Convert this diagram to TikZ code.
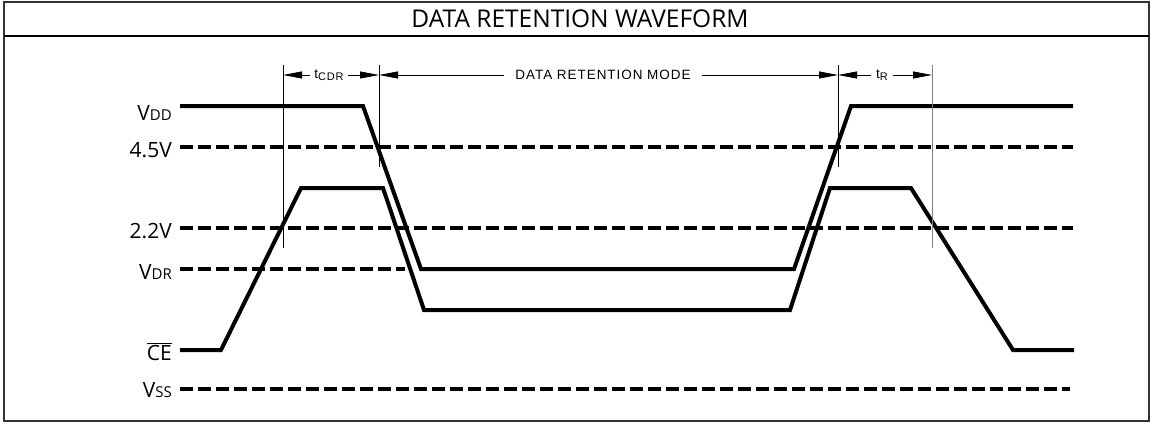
\documentclass[tikz,border=0pt]{standalone}
\usepackage{fontspec}
\setmainfont{Open Sans}
\newfontfamily\titlefont{Open Sans}
\newfontfamily\dimfont[LetterSpace=7]{Liberation Sans}
\usetikzlibrary{arrows.meta}
\newcommand{\lowtxt}[1]{{\fontsize{15}{15}\selectfont #1}}
\newcommand{\dimsub}[1]{\raisebox{-2.5pt}{\fontsize{11}{11}\selectfont #1}}
\begin{document}
\begin{tikzpicture}[x=1pt,y=-1pt]
    \tikzset{%
        lbl/.style={anchor=base east, inner sep=0pt, font=\fontsize{21}{21}\selectfont},
        wave/.style={line width=4pt, line join=miter},
        lev/.style={line width=4pt, dash pattern=on 13pt off 5pt},
        tick/.style={line width=0.9pt},
        dim/.style={line width=0.8pt, -{Triangle[length=19pt,width=7pt]}},
        dtxt/.style={font=\dimfont\fontsize{13.5}{13.5}\selectfont, inner sep=4pt}%
        }
    \useasboundingbox (0,0) rectangle (1151,423);
    \draw[line width=2pt, black!80] (4,2) rectangle (1149,421);
    \draw[line width=2.5pt] (4,36) -- (1149,36);
    \node[font=\titlefont\fontsize{24.5}{24.5}\selectfont](title)at(580,19){DATA RETENTION WAVEFORM};
    % level labels
    \node[lbl](vdd)at(172,120){V\lowtxt{DD}};
    \node[lbl](v45)at(172,157){4.5V};
    \node[lbl](v22)at(172,238){2.2V};
    \node[lbl](vdr)at(172,279){V\lowtxt{DR}};
    \node[lbl](ce)at(172,360){$\overline{\mbox{CE}}$};
    \node[lbl](vss)at(172,397){V\lowtxt{SS}};
    % reference levels
    \draw[lev] (180,147) -- (1073,147);
    \draw[lev] (180,228) -- (1073,228);
    \draw[lev] (180,269) -- (405,269);
    \draw[lev] (180,389) -- (1070,389);
    % waveforms
    \draw[wave] (180,106) -- (363,106) -- (421,269) -- (794,269) -- (851,106) -- (1073,106);
    \draw[wave] (180,350) -- (221,350) -- (301,188) -- (383,188) -- (424,310)
        -- (790,310) -- (830,188) -- (911,188) -- (1013,350) -- (1074,350);
    % timing marks
    \draw[tick] (283,65) -- (283,248);
    \draw[tick] (379,65) -- (379,167);
    \draw[tick] (838,65) -- (838,167);
    \draw[tick, gray] (932,65) -- (932,248);
    \coordinate (m1) at (283,75);
    \coordinate (m2) at (379,75);
    \coordinate (m3) at (838,75);
    \coordinate (m4) at (932,75);
    \node[dtxt](tcdr)at(329,75){t\dimsub{CDR}};
    \node[dtxt, inner sep=11pt](drm)at(603,75){DATA RETENTION MODE};
    \node[dtxt, inner sep=5pt](tr)at(882,75){t\dimsub{R}};
    \path
    (tcdr)edge[dim](m1)
    (tcdr)edge[dim](m2)
    (drm)edge[dim](m2)
    (drm)edge[dim](m3)
    (tr)edge[dim](m3)
    (tr)edge[dim](m4);
\end{tikzpicture}
\end{document}
